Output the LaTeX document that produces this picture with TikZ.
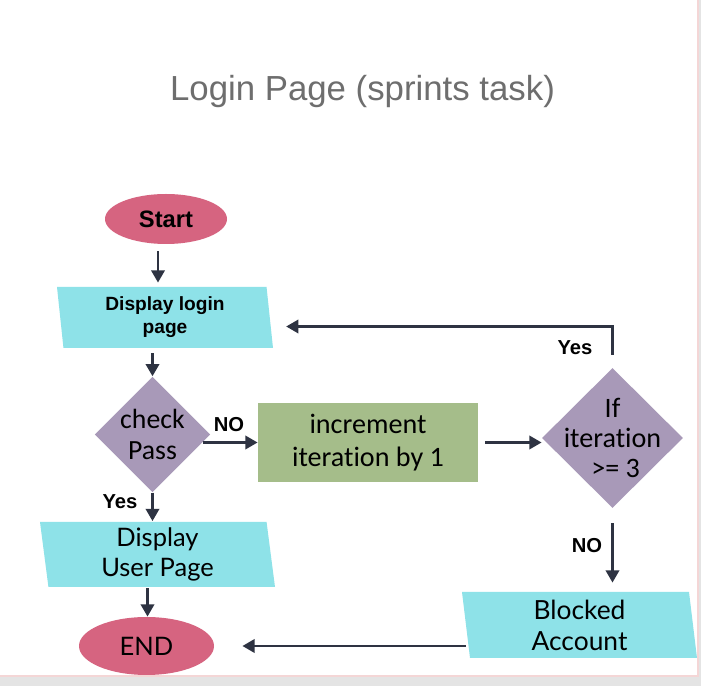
\documentclass[tikz,border=0pt]{standalone}
\usepackage{fontspec}
\usepackage{tikz}
\usetikzlibrary{arrows.meta,shapes.geometric}

\newfontfamily\titlefont{Liberation Sans}
\newfontfamily\boldfont{Liberation Sans}
\newfontfamily\calfont[Ligatures=NoCommon]{Carlito}
\newfontfamily\latofont{Lato}

\definecolor{termpink}{RGB}{214,100,128}
\definecolor{iocyan}{RGB}{142,226,232}
\definecolor{testlilac}{RGB}{168,153,184}
\definecolor{procgreen}{RGB}{165,189,138}
\definecolor{linenavy}{RGB}{46,51,66}
\definecolor{titlegray}{RGB}{110,110,110}
\definecolor{pagegray}{RGB}{228,228,228}
\definecolor{edgepink}{RGB}{244,214,214}

\tikzset{
  arr/.style={draw=linenavy, line width=1.7pt, -{Triangle[length=7pt,width=7.5pt]}},
  terminal/.style={ellipse, fill=termpink, inner sep=0pt},
  iobox/.style={trapezium, trapezium left angle=99, trapezium right angle=81,
    trapezium stretches body, fill=iocyan, inner sep=0pt, align=center},
  test/.style={diamond, fill=testlilac, inner sep=0pt, align=center},
  lbl/.style={font=\boldfont\bfseries\fontsize{11.5}{13}\selectfont}
}

\begin{document}
\begin{tikzpicture}
  \useasboundingbox (0,0) rectangle (14.02,-13.72);
  \fill[pagegray] (0,0) rectangle (14.02,-13.72);
  \fill[white] (0,0) rectangle (13.96,-13.52);
  \draw[edgepink, line width=0.6pt] (13.96,0) -- (13.96,-13.52) -- (0,-13.52);

  \node[anchor=base, text=titlegray, font=\titlefont\fontsize{19.8}{22}\selectfont] (title) at (7.25,-2.02) {Login Page (sprints task)};

  \node[terminal, minimum width=2.44cm, minimum height=1.0cm, font=\boldfont\bfseries\fontsize{13.5}{16}\selectfont] (start) at (3.32,-4.38) {Start};
  \node[iobox, minimum width=4.32cm, minimum height=1.22cm, font=\boldfont\bfseries\fontsize{10.9}{13}\selectfont] (disp) at (3.30,-6.35) {Display login\\page};
  \node[test, minimum width=2.3cm, minimum height=2.3cm, font=\calfont\fontsize{15.8}{18}\selectfont] (check) at (3.05,-8.69) {check\\Pass};
  \node[rectangle, fill=procgreen, minimum width=4.4cm, minimum height=1.58cm, align=center, font=\calfont\fontsize{16}{18.7}\selectfont] (incr) at (7.36,-8.85) {increment\\iteration by 1};
  \node[test, minimum width=2.82cm, minimum height=2.8cm] (iff) at (12.25,-8.76) {};
  \node[align=center, inner sep=0pt, font=\calfont\fontsize{16}{17}\selectfont] (ifftext) at (iff) {If\\iteration\\\ >= 3};
  \node[iobox, minimum width=4.7cm, minimum height=1.3cm, font=\latofont\fontsize{14.5}{17}\selectfont] (user) at (3.15,-11.09) {Display\\User Page};
  \node[terminal, minimum width=2.7cm, minimum height=1.16cm, font=\latofont\fontsize{14.5}{17}\selectfont] (end) at (2.93,-12.92) {END};
  \node[iobox, minimum width=4.7cm, minimum height=1.32cm, font=\latofont\fontsize{15}{17.6}\selectfont] (blocked) at (11.59,-12.50) {Blocked\\Account};

  % connectors
  \draw[arr, shorten <=1.4mm, shorten >=0.8mm] ([xshift=-1.6mm]start.south) -- ([xshift=-1.6mm]start.south |- disp.north);
  \draw[arr, shorten <=1mm] (check.north |- disp.south) -- (check.north);
  \draw[arr] ([xshift=-1.6mm]check.east |- incr.west) -- (incr.west);
  \draw[arr, shorten <=1.4mm] (incr.east) -- (incr.east -| iff.west);
  \draw[arr, shorten <=2.6mm, shorten >=3.2mm] (iff.north) |- ([yshift=-0.18cm]disp.east);
  \draw[arr, shorten >=0.1mm] (check.south) -- (check.south |- user.north);
  \draw[arr, shorten <=0.2mm] ([xshift=-2mm]user.south) -- ([xshift=-2mm]user.south |- end.north);
  \draw[arr, shorten <=3mm, shorten >=1.8mm] (iff.south) -- (iff.south |- blocked.north);
  \draw[arr, shorten >=5.6mm] (blocked.west |- end.east) -- (end.east);

  % labels
  \node[lbl, anchor=base] (nocheck) at (4.58,-8.64) {NO};
  \node[lbl, anchor=base] (yescheck) at (2.40,-10.18) {Yes};
  \node[lbl, anchor=base] (yesiff) at (11.50,-7.10) {Yes};
  \node[lbl, anchor=base] (noiff) at (11.74,-11.06) {NO};
\end{tikzpicture}
\end{document}
